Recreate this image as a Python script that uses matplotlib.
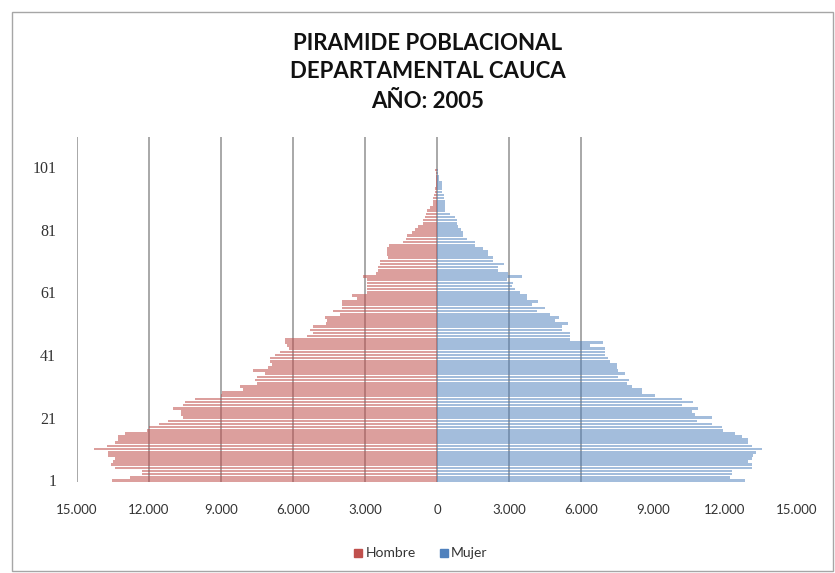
import numpy as np
import matplotlib
matplotlib.use('Agg')
import matplotlib.pyplot as plt
from matplotlib.patches import Rectangle
from matplotlib.ticker import FuncFormatter

# Edades simples (categorias del eje vertical)
edades = list(range(1, 111))

# Poblacion por edad - Hombre
hombre = [13550, 12800, 12300, 12300, 13400, 13600, 13500, 13400, 13700, 13700,
          14300, 13750, 13400, 13300, 13300, 13000, 12100, 12000, 11600, 11200,
          10600, 10650, 10650, 11000, 10600, 10500, 10100, 9000, 8970, 8100,
          8200, 7500, 7600, 7500, 7180, 7650, 7030, 6890, 6960, 6960,
          6750, 6540, 6160, 6260, 6330, 6330, 5430, 5160, 5290, 5160,
          4620, 4570, 4670, 4040, 4330, 3970, 3970, 3970, 3350, 3560,
          2930, 2930, 2930, 2930, 2930, 3080, 2540, 2450, 2450, 2375,
          2375, 2040, 2080, 2080, 2080, 2000, 1400, 1300, 1260, 1050,
          900, 790, 600, 580, 500, 450, 430, 300, 170, 160,
          150, 120, 100, 80, 60, 50, 40, 30, 30, 80,
          0, 0, 0, 0, 0, 0, 0, 0, 0, 0]

# Poblacion por edad - Mujer
mujer = [12830, 12210, 12280, 12280, 13110, 13110, 12970, 13110, 13150, 13300,
         13530, 13110, 12970, 12970, 12690, 12420, 11930, 11860, 11440, 10820,
         11440, 10750, 10610, 10890, 10190, 10680, 10190, 9080, 8530, 8530,
         8110, 7900, 8000, 7560, 7830, 7555, 7490, 7490, 7210, 7140,
         7000, 7000, 7000, 6380, 6930, 5540, 5540, 5540, 5200, 5200,
         5470, 4920, 5100, 4710, 4180, 4500, 3940, 4220, 3740, 3740,
         3460, 3250, 3110, 3180, 2900, 3530, 2970, 2555, 2555, 2790,
         2350, 2350, 2140, 2140, 1930, 1580, 1580, 1240, 1100, 1100,
         1000, 890, 850, 840, 750, 540, 330, 330, 330, 330,
         300, 300, 190, 190, 190, 190, 100, 100, 60, 50,
         0, 0, 0, 0, 0, 0, 0, 0, 0, 0]

x_ticks = [-15000, -12000, -9000, -6000, -3000, 0, 3000, 6000, 9000, 12000, 15000]
grid_x = [-15000, -12000, -9000, -6000, -3000, 0, 3000, 6000]
y_ticks = [1, 21, 41, 61, 81, 101]

W, H = 835, 573
fig = plt.figure(figsize=(W / 100, H / 100), dpi=100)
ax = fig.add_axes([77 / W, 1 - 482 / H, 720 / W, 345 / H])

# lineas de division (se ven a traves de las barras)
for gx in grid_x:
    ax.axvline(gx, color='#a8a8a8', linewidth=1.4, zorder=0)

ax.barh(edades, -np.array(hombre), height=0.85, color='#c0504d', alpha=0.55, zorder=2)
ax.barh(edades, mujer, height=0.85, color='#4f81bd', alpha=0.52, zorder=2)

ax.set_xlim(-15000, 15000)
ax.set_ylim(0.5, 110.5)
ax.set_xticks(x_ticks)
ax.xaxis.set_major_formatter(FuncFormatter(lambda v, p: f"{abs(int(v)):,}".replace(',', '.')))
ax.set_yticks(y_ticks)
ax.tick_params(axis='x', length=0, pad=16, labelsize=9.5, labelcolor='#333333')
ax.tick_params(axis='y', length=0, pad=15, labelsize=11.5, labelcolor='#333333')
for lbl in ax.get_xticklabels():
    lbl.set_fontfamily('Lato')
for lbl in ax.get_yticklabels():
    lbl.set_fontfamily('Liberation Serif')
for s in ax.spines.values():
    s.set_visible(False)

# titulo
titulo = ['PIRAMIDE POBLACIONAL', 'DEPARTAMENTAL CAUCA', 'AÑO: 2005']
for i, t in enumerate(titulo):
    fig.text(428 / W, 1 - (43 + i * 29) / H, t, ha='center', va='center',
             fontsize=16, fontweight='bold', family='Lato', color='#111111')

# leyenda
ley_y = 1 - 553 / H
fig.patches.append(Rectangle((354 / W, ley_y - 4 / H), 8 / W, 8 / H,
                             transform=fig.transFigure, color='#c0504d'))
fig.text(366 / W, ley_y, 'Hombre', ha='left', va='center', fontsize=10,
         family='Lato', color='#333333')
fig.patches.append(Rectangle((440 / W, ley_y - 4 / H), 8 / W, 8 / H,
                             transform=fig.transFigure, color='#4f81bd'))
fig.text(451 / W, ley_y, 'Mujer', ha='left', va='center', fontsize=10,
         family='Lato', color='#333333')

# borde del area del grafico
fig.patches.append(Rectangle((12 / W, 1 - 571 / H), 821 / W, 559 / H,
                             transform=fig.transFigure, fill=False,
                             edgecolor='#a6a6a6', linewidth=1))

fig.savefig('out.png', dpi=100)
